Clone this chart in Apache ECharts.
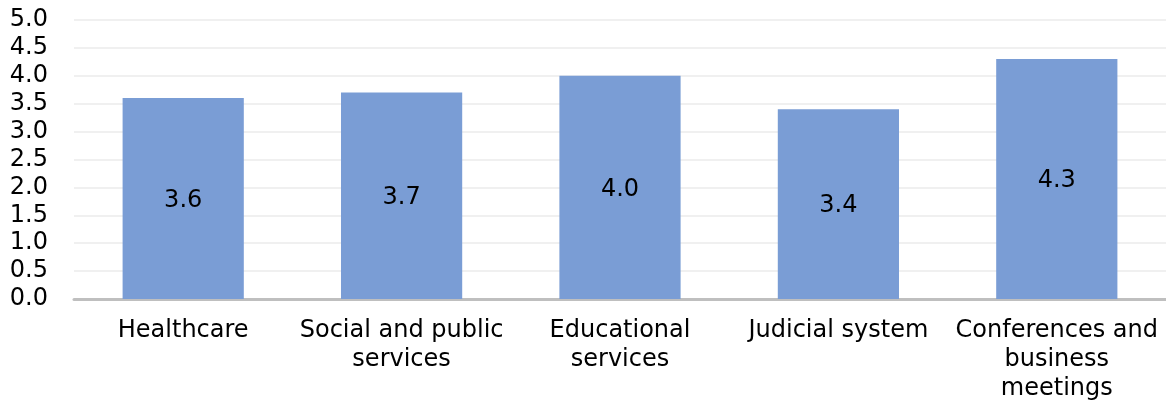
<!DOCTYPE html>
<html><head><meta charset="utf-8">
<script src="https://cdn.jsdelivr.net/npm/echarts@6/dist/echarts.min.js"></script>
<style>html,body{margin:0;padding:0;background:#fff}#c{width:1166px;height:404px}</style>
</head><body><div id="c"></div>
<script>
const categories = ["Healthcare", "Social and public\nservices", "Educational\nservices", "Judicial system", "Conferences and\nbusiness\nmeetings"];
const values = [3.6, 3.7, 4.0, 3.4, 4.3];
const chart = echarts.init(document.getElementById('c'));
const font = 'DejaVu Sans, Verdana, sans-serif';
chart.setOption({
  animation: false,
  grid: {left: 74, right: 0, top: 20, bottom: 105, containLabel: false},
  xAxis: {
    type: 'category', data: categories,
    axisLine: {lineStyle: {color: '#bfbfbf', width: 3}},
    axisTick: {show: false},
    axisLabel: {color: '#000', fontFamily: font, fontSize: 24, lineHeight: 29, margin: 17, interval: 0}
  },
  yAxis: {
    type: 'value', min: 0, max: 5, interval: 0.5,
    axisLine: {show: false}, axisTick: {show: false},
    splitLine: {lineStyle: {color: '#ebebeb', width: 1.5}},
    axisLabel: {color: '#000', fontFamily: font, fontSize: 24, margin: 26, formatter: v => v.toFixed(1)}
  },
  series: [{
    type: 'bar', data: values, barWidth: '55.5%',
    itemStyle: {color: '#7a9dd5'},
    label: {show: true, position: 'inside', offset: [0, 2], color: '#000', fontFamily: font, fontSize: 24, formatter: p => p.value.toFixed(1)}
  }]
});
</script></body></html>
